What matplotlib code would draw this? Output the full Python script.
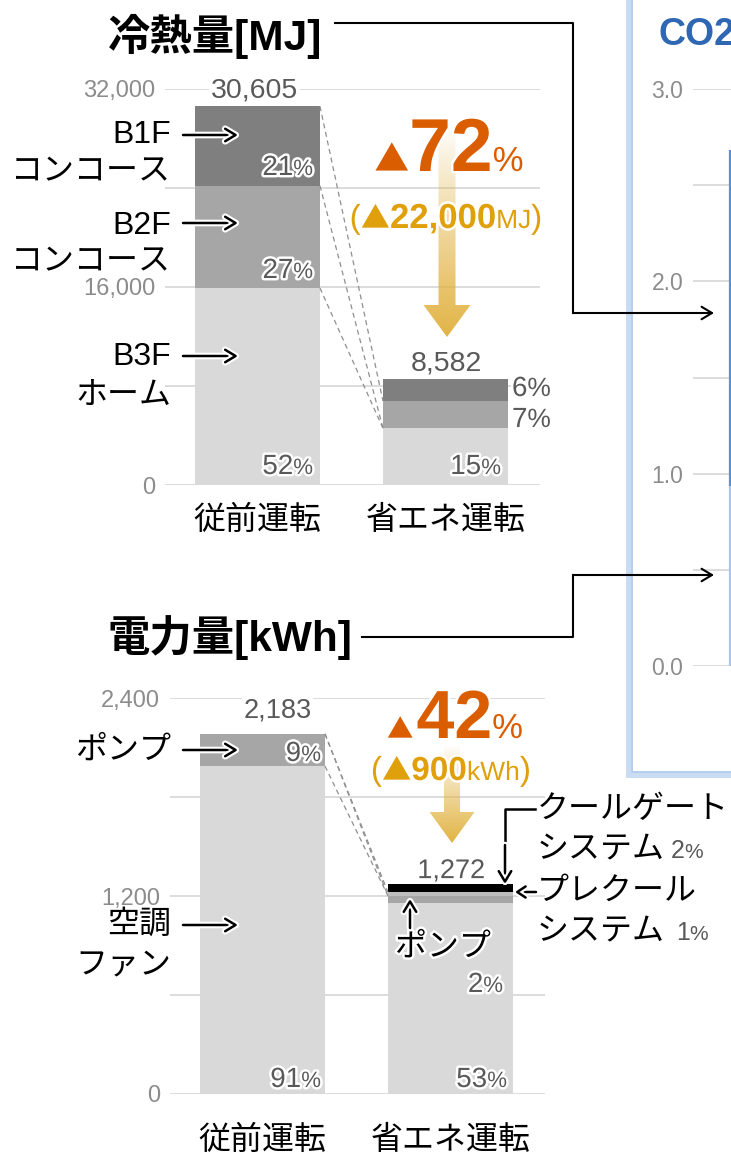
import numpy as np
import matplotlib
matplotlib.use("Agg")
import matplotlib.pyplot as plt
import matplotlib.patheffects as pe
from matplotlib.patches import Polygon, Rectangle
from matplotlib.colors import to_rgb
from matplotlib.ticker import FuncFormatter

plt.rcParams["font.family"] = ["Liberation Sans", "Noto Sans CJK JP", "DejaVu Sans"]

W, H, DPI = 731, 1155, 100

# ---------------- data ----------------
categories = ["従前運転", "省エネ運転"]

# 冷熱量 [MJ]
heat_b3f = [15915, 4590]   # B3F ホーム
heat_b2f = [8263, 2200]    # B2F コンコース
heat_b1f = [6427, 1792]    # B1F コンコース

# 電力量 [kWh]
power_fan = [1987, 1157]      # 空調ファン
power_pump = [196, 44]        # ポンプ
power_precool = [0, 22]       # プレクールシステム
power_coolgate = [0, 49]      # クールゲートシステム

# CO2 panel
co2_lower = [0.94]
co2_upper = [1.74]

heat_ticks = [0, 16000, 32000]
heat_grid = [8000, 24000]
power_ticks = [0, 1200, 2400]
power_grid = [600, 1800]
co2_ticks = [0.0, 1.0, 2.0, 3.0]
co2_grid = [0.5, 1.5, 2.5]

# ---------------- derived values ----------------
heat_b3f = np.array(heat_b3f); heat_b2f = np.array(heat_b2f); heat_b1f = np.array(heat_b1f)
heat_total = heat_b3f + heat_b2f + heat_b1f
power_fan = np.array(power_fan); power_pump = np.array(power_pump)
power_precool = np.array(power_precool); power_coolgate = np.array(power_coolgate)
power_total = power_fan + power_pump + power_precool + power_coolgate

def share(v, base):
    return f"{round(v / base * 100)}"

heat_cut = heat_total[0] - heat_total[1]
power_cut = power_total[0] - power_total[1]
heat_cut_pct = share(heat_cut, heat_total[0])
power_cut_pct = share(power_cut, power_total[0])

# ---------------- colours ----------------
C_DARK, C_MID, C_LIGHT = "#7f7f7f", "#a6a6a6", "#d9d9d9"
C_PRE = "#bdbdbd"
C_TXT = "#595959"
C_TICK = "#8c8c8c"
C_GRID = "#d9d9d9"
ORANGE = "#DA5D00"
GOLD = "#E0A00C"
ARROW_GOLD = "#E2B445"
CJK = "Noto Sans CJK JP"

fig = plt.figure(figsize=(W / DPI, H / DPI), dpi=DPI)
fig.patch.set_facecolor("white")


def px_axes(left, top, right, bottom, **kw):
    return fig.add_axes([left / W, 1 - bottom / H, (right - left) / W, (bottom - top) / H], **kw)


def style_axes(ax, major, minor, fmt, ymax, pad_x, size=17):
    ax.set_ylim(0, ymax)
    ax.set_yticks(major)
    ax.set_yticks(minor, minor=True)
    ax.yaxis.set_major_formatter(FuncFormatter(fmt))
    ax.grid(axis="y", which="both", color=C_GRID, lw=1.3)
    ax.set_axisbelow(True)
    for s in ax.spines.values():
        s.set_visible(False)
    ax.tick_params(axis="y", which="both", length=0, pad=7, labelsize=size, labelcolor=C_TICK)
    ax.tick_params(axis="x", length=0, labelsize=23, pad=pad_x)
    ax.set_facecolor("none")


BAR_W = 0.665
XLIM = (-0.492, 1.503)
x = np.arange(len(categories))

# ---------------- 冷熱量 chart ----------------
ax_h = px_axes(165, 89, 540, 485)
style_axes(ax_h, heat_ticks, heat_grid, lambda v, p: f"{v:,.0f}", 32000, 15)
ax_h.set_xlim(*XLIM)
ax_h.set_xticks(x, categories)
ax_h.bar(x, heat_b3f, BAR_W, color=C_LIGHT, zorder=2)
ax_h.bar(x, heat_b2f, BAR_W, bottom=heat_b3f, color=C_MID, zorder=2)
ax_h.bar(x, heat_b1f, BAR_W, bottom=heat_b3f + heat_b2f, color=C_DARK, zorder=2)

dash = dict(color="#8f8f8f", lw=0.9, ls=(0, (4, 3)), clip_on=False, zorder=3)
xr, xl = x[0] + BAR_W / 2, x[1] - BAR_W / 2
ax_h.plot([xr, xl], [heat_total[0], heat_b3f[1] + heat_b2f[1]], **dash)
ax_h.plot([xr, xl], [heat_b3f[0] + heat_b2f[0], heat_b3f[1]], **dash)
ax_h.plot([xr, xl], [heat_b3f[0], heat_b3f[1]], **dash)

ax_h.annotate(f"{heat_total[0]:,}", (x[0], heat_total[0]), xytext=(-3, 9), textcoords="offset pixels",
              ha="center", va="baseline", fontsize=20.5, color=C_TXT, zorder=5,
              bbox=dict(boxstyle="square,pad=0.05", fc="white", ec="none"))
ax_h.annotate(f"{heat_total[1]:,}", (x[1], heat_total[1]), xytext=(1, 8), textcoords="offset pixels",
              ha="center", va="baseline", fontsize=20.5, color=C_TXT, zorder=5)

# ---------------- 電力量 chart ----------------
ax_p = px_axes(170, 698, 545, 1094)
style_axes(ax_p, power_ticks, power_grid, lambda v, p: f"{v:,.0f}", 2400, 23)
ax_p.set_xlim(*XLIM)
ax_p.set_xticks(x, categories)
ax_p.bar(x, power_fan, BAR_W, color=C_LIGHT, zorder=2)
b = power_fan.copy()
ax_p.bar(x, power_pump, BAR_W, bottom=b, color=C_MID, zorder=2)
b = b + power_pump
ax_p.bar(x, power_precool, BAR_W, bottom=b, color=C_PRE, zorder=2)
b = b + power_precool
ax_p.bar(x, power_coolgate, BAR_W, bottom=b, color="black", zorder=2)

ax_p.plot([xr, xl], [power_total[0], power_fan[1] + power_pump[1] + power_precool[1]], **dash)
ax_p.plot([xr, xl], [power_total[0], power_fan[1] + power_pump[1]], **dash)
ax_p.plot([xr, xl], [power_fan[0], power_fan[1] + power_pump[1]], **dash)

ax_p.annotate(f"{power_total[0]:,}", (x[0], power_total[0]), xytext=(15, 16), textcoords="offset pixels",
              ha="center", va="baseline", fontsize=19.5, color=C_TXT, zorder=5,
              bbox=dict(boxstyle="square,pad=0.05", fc="white", ec="none"))
ax_p.annotate(f"{power_total[1]:,}", (x[1], power_total[1]), xytext=(1, 6), textcoords="offset pixels",
              ha="center", va="baseline", fontsize=19.5, color=C_TXT, zorder=5,
              path_effects=[pe.withStroke(linewidth=3, foreground="white")])

# ---------------- CO2 panel (cut by the right edge) ----------------
ax_c = px_axes(693, 89, 993, 666)
style_axes(ax_c, co2_ticks, co2_grid, lambda v, p: f"{v:.1f}", 3.0, 10, size=16.5)
ax_c.set_xlim(-0.5467, 1.4533)
ax_c.set_xticks([])
ax_c.bar([0], co2_lower, 0.6, color="#f3f7fc", edgecolor="#a9c5ec", lw=1.6, zorder=2)
ax_c.bar([0], co2_upper, 0.6, bottom=co2_lower, color="#f3f7fc", edgecolor="#5b8fd6", lw=1.6, zorder=2)

# ---------------- overlay in pixel coordinates ----------------
ov = fig.add_axes([0, 0, 1, 1], zorder=5)
ov.set_xlim(0, W)
ov.set_ylim(H, 0)
ov.axis("off")
ov.patch.set_alpha(0)

renderer = fig.canvas.get_renderer()
GLOW = [pe.withStroke(linewidth=3.5, foreground="white")]


def rich(xp, base, parts, ha="left", glow=False, z=6):
    """Draw a run of differently styled pieces on one baseline."""
    objs, widths = [], []
    for part in parts:
        s, size, weight, color = part[:4]
        fam = part[4] if len(part) > 4 else None
        t = ov.text(0, base, s, fontsize=size, fontweight=weight, color=color,
                    ha="left", va="baseline", zorder=z)
        if fam:
            t.set_family(fam)
        if glow:
            t.set_path_effects(GLOW)
        objs.append(t)
        widths.append(t.get_window_extent(renderer).width)
    total = sum(widths)
    cur = {"left": xp, "right": xp - total, "center": xp - total / 2}[ha]
    for t, w in zip(objs, widths):
        t.set_x(cur)
        cur += w


def pct(xp, base, num, ha="right", size=20, psize=16):
    rich(xp, base, [(num, size, "normal", C_TXT), ("%", psize, "normal", C_TXT)], ha=ha, glow=True)


def arrow(x0, y0, x1, y1, lw=1.8, glow=True, hl=0.75, hw=0.45):
    ov.annotate("", xy=(x1, y1), xytext=(x0, y0),
                arrowprops=dict(arrowstyle=f"->,head_length={hl},head_width={hw}", color="black",
                                lw=lw, shrinkA=0, shrinkB=0,
                                path_effects=[pe.withStroke(linewidth=lw + 3, foreground="white")] if glow else None),
                zorder=7)


def label(xp, yp, s, ha="right", size=23, glow=False):
    t = ov.text(xp, yp, s, ha=ha, va="center", fontsize=size, color="black", zorder=6)
    if glow:
        t.set_path_effects(GLOW)


def grad_arrow(cx, top, head_top, tip, shaft_w, head_w, color):
    verts = [(cx - shaft_w / 2, top), (cx + shaft_w / 2, top), (cx + shaft_w / 2, head_top),
             (cx + head_w / 2, head_top), (cx, tip), (cx - head_w / 2, head_top),
             (cx - shaft_w / 2, head_top)]
    poly = Polygon(verts, closed=True, fc="none", ec="none")
    ov.add_patch(poly)
    n = 256
    grad = np.zeros((n, 1, 4))
    grad[..., :3] = to_rgb(color)
    grad[:, 0, 3] = np.linspace(0, 1, n) ** 0.9
    im = ov.imshow(grad, extent=(cx - head_w / 2, cx + head_w / 2, tip, top), aspect="auto",
                   interpolation="bilinear", zorder=2)
    im.set_clip_path(poly)


# titles and connectors
ov.text(108, 36, "冷熱量[MJ]", fontsize=30.5, fontweight="bold", ha="left", va="center", zorder=6)
ov.text(108, 638, "電力量[kWh]", fontsize=30.5, fontweight="bold", ha="left", va="center", zorder=6)
ov.plot([335, 573, 573], [23, 23, 313], color="black", lw=1.5, zorder=6)
arrow(573, 313, 714, 313, lw=1.5, glow=False)
ov.plot([362, 573, 573], [637, 637, 575], color="black", lw=1.5, zorder=6)
arrow(573, 575, 714, 575, lw=1.5, glow=False)

# CO2 frame and title
ov.add_patch(Rectangle((629, -20), 400, 794, fc="none", ec="#cadcf2", lw=5, zorder=1))
ov.add_patch(Rectangle((631.5, -20), 400, 791.5, fc="none", ec="#b3cdee", lw=1.2, zorder=1))
ov.text(658, 35, "CO2", fontsize=27, fontweight="bold", color="#2F67B2", ha="left", va="center", zorder=6)

# heat chart annotations
label(171, 135, "B1F"); label(171, 172, "コンコース")
arrow(183, 135, 238, 135)
label(171, 226, "B2F"); label(171, 262, "コンコース")
arrow(183, 223, 238, 223)
label(171, 357, "B3F"); label(171, 396, "ホーム")
arrow(183, 356, 238, 356)

pct(313, 175, share(heat_b1f[0], heat_total[0]))
pct(313, 278, share(heat_b2f[0], heat_total[0]))
pct(313, 474, share(heat_b3f[0], heat_total[0]))
pct(501, 474, share(heat_b3f[1], heat_total[0]))
pct(512, 396, share(heat_b1f[1], heat_total[0]), ha="left", size=20, psize=19)
pct(512, 427, share(heat_b2f[1], heat_total[0]), ha="left", size=20, psize=19)

grad_arrow(447, 125, 305, 337, 17, 47, ARROW_GOLD)
rich(449, 171, [("▲", 25, "normal", ORANGE, CJK), (heat_cut_pct, 54, "bold", ORANGE),
                ("%", 25, "normal", ORANGE)], ha="center", glow=True)
rich(446, 228, [("(", 24, "normal", GOLD), ("▲", 21, "normal", GOLD, CJK),
                (f"{round(heat_cut, -3):,.0f}", 25, "bold", GOLD), ("MJ", 19, "normal", GOLD),
                (")", 24, "normal", GOLD)], ha="center", glow=True)

# power chart annotations
label(171, 751, "ポンプ")
arrow(183, 750, 238, 750)
label(171, 925, "空調"); label(171, 965, "ファン")
arrow(183, 925, 238, 925)

pct(321, 761, share(power_pump[0], power_total[0]))
pct(321, 1087, share(power_fan[0], power_total[0]))
pct(507, 1087, share(power_fan[1], power_total[0]))
pct(503, 992, share(power_pump[1], power_total[0]))

label(395, 948, "ポンプ", ha="left", glow=True)
arrow(410, 928, 410, 899)

label(537, 810, "クールゲート", ha="left")
rich(537, 858, [("システム", 23, "normal", "black"), (" ", 14, "normal", "black"),
                (share(power_coolgate[1], power_total[0]), 18, "normal", C_TXT),
                ("%", 15, "normal", C_TXT)])
ov.plot([535, 505, 505], [809, 809, 850], color="black", lw=1.8, zorder=7)
arrow(505, 845, 505, 884)

label(537, 892, "プレクール", ha="left")
arrow(536, 892, 515, 892, hl=0.6, hw=0.4)
rich(537, 940, [("システム", 23, "normal", "black"), ("  ", 14, "normal", "black"),
                (share(power_precool[1], power_total[0]), 18, "normal", C_TXT),
                ("%", 15, "normal", C_TXT)])

grad_arrow(452, 745, 812, 843, 16, 45, ARROW_GOLD)
rich(455, 738, [("▲", 19, "normal", ORANGE, CJK), (" ", 8, "normal", ORANGE),
                (power_cut_pct, 49, "bold", ORANGE),
                ("%", 25, "normal", ORANGE)], ha="center", glow=True)
rich(451, 780, [("(", 24, "normal", GOLD), ("▲", 21, "normal", GOLD, CJK),
                (f"{round(power_cut, -2):,.0f}", 24, "bold", GOLD), ("kWh", 19, "normal", GOLD),
                (")", 24, "normal", GOLD)], ha="center", glow=True)

ov.set_xlim(0, W)
ov.set_ylim(H, 0)

fig.savefig("out.png", dpi=DPI, facecolor="white")
